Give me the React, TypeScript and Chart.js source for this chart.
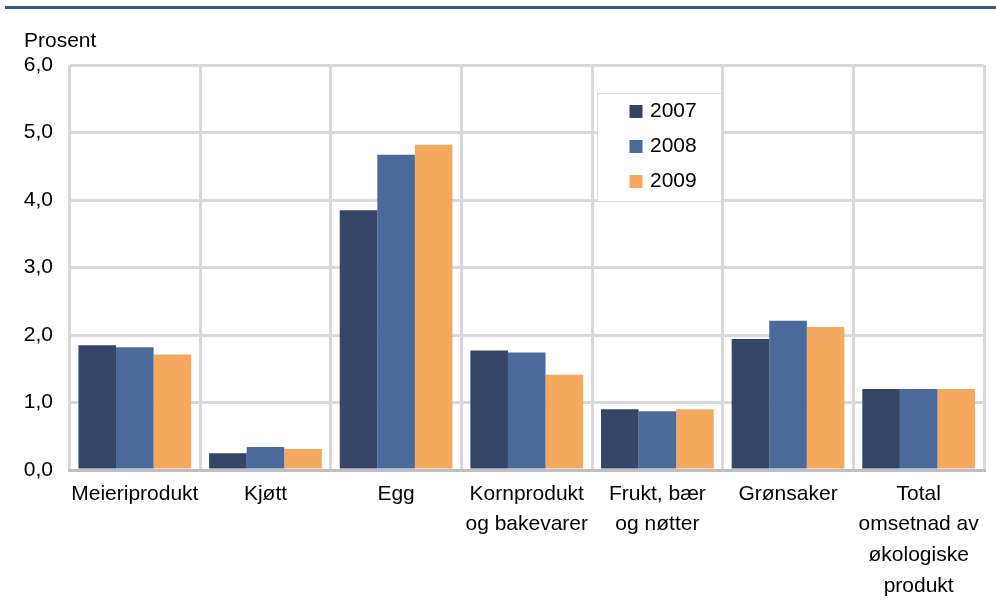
import React, { useEffect, useRef } from 'react';
import { Chart, registerables } from 'chart.js';

Chart.register(...registerables);

const categories: string[][] = [
  ['Meieriprodukt'],
  ['Kjøtt'],
  ['Egg'],
  ['Kornprodukt', 'og bakevarer'],
  ['Frukt, bær', 'og nøtter'],
  ['Grønsaker'],
  ['Total', 'omsetnad av', 'økologiske', 'produkt'],
];
const seriesNames = ['2007', '2008', '2009'];
const values2007 = [1.85, 0.25, 3.85, 1.77, 0.9, 1.94, 1.2];
const values2008 = [1.82, 0.34, 4.67, 1.74, 0.87, 2.21, 1.2];
const values2009 = [1.71, 0.31, 4.82, 1.41, 0.9, 2.12, 1.2];
const seriesColors = ['#344568', '#4A6A9C', '#F5A95F'];
const yAxisTitle = 'Prosent';
const yMin = 0;
const yMax = 6;
const yStep = 1;

const FONT = '"Liberation Sans", Arial, sans-serif';

const decorPlugin = {
  id: 'decor',
  afterDraw(chart: any) {
    const ctx = chart.ctx as CanvasRenderingContext2D;
    ctx.save();
    // top rule
    ctx.fillStyle = '#3B5687';
    ctx.fillRect(5, 6, 991, 3);
    // axis title
    ctx.fillStyle = '#000';
    ctx.font = `21px ${FONT}`;
    ctx.textBaseline = 'alphabetic';
    ctx.textAlign = 'left';
    ctx.fillText(yAxisTitle, 24, 47);
    // legend box
    const bx = 597.5, by = 93.5, bw = 124, bh = 108;
    ctx.fillStyle = '#ffffff';
    ctx.fillRect(bx, by, bw, bh);
    ctx.strokeStyle = '#d9d9d9';
    ctx.lineWidth = 1;
    ctx.strokeRect(bx, by, bw, bh);
    const datasets = chart.data.datasets;
    datasets.forEach((ds: any, i: number) => {
      const cy = 111.5 + i * 35;
      ctx.fillStyle = ds.backgroundColor;
      ctx.fillRect(629.5, cy - 6.5, 13, 13);
      ctx.fillStyle = '#000';
      ctx.textBaseline = 'middle';
      ctx.fillText(ds.label, 650, cy);
    });
    ctx.restore();
  },
};

export default function App() {
  const ref = useRef<HTMLCanvasElement | null>(null);
  useEffect(() => {
    document.body.style.margin = '0';
    if (!ref.current) return;
    const seriesValues = [values2007, values2008, values2009];
    const chart = new Chart(ref.current, {
      type: 'bar',
      data: {
        labels: categories,
        datasets: seriesNames.map((name, i) => ({
          label: name,
          data: seriesValues[i],
          backgroundColor: seriesColors[i],
          borderWidth: 0,
          categoryPercentage: 0.863,
          barPercentage: 1.0,
        })),
      },
      options: {
        animation: false,
        responsive: false,
        maintainAspectRatio: false,
        layout: { padding: { top: 65, right: 12, bottom: 0, left: 0 } },
        plugins: {
          legend: { display: false },
          tooltip: { enabled: false },
          title: { display: false },
        },
        scales: {
          x: {
            grid: { color: '#d9d9d9', lineWidth: 3, drawTicks: false, offset: true },
            border: { display: true, color: '#bfbfbf', width: 3, z: 1 },
            ticks: {
              color: '#000',
              font: { family: FONT, size: 21, lineHeight: 1.462 },
              padding: 8.6,
              maxRotation: 0,
              minRotation: 0,
              autoSkip: false,
            },
            afterFit: (s: any) => {
              s.height = 145;
            },
          },
          y: {
            min: yMin,
            max: yMax,
            grid: { color: '#d9d9d9', lineWidth: 3, drawTicks: false },
            border: { display: false },
            ticks: {
              stepSize: yStep,
              color: '#000',
              font: { family: FONT, size: 21 },
              padding: 16.5,
              callback: (v: any) => Number(v).toFixed(1).replace('.', ','),
            },
            afterFit: (s: any) => {
              s.width = 69.5;
            },
          },
        },
      },
      plugins: [decorPlugin],
    });
    return () => chart.destroy();
  }, []);
  return (
    <div style={{ position: 'fixed', left: 0, top: 0, width: 996, height: 615 }}>
      <canvas ref={ref} width={996} height={615} style={{ width: 996, height: 615 }} />
    </div>
  );
}
